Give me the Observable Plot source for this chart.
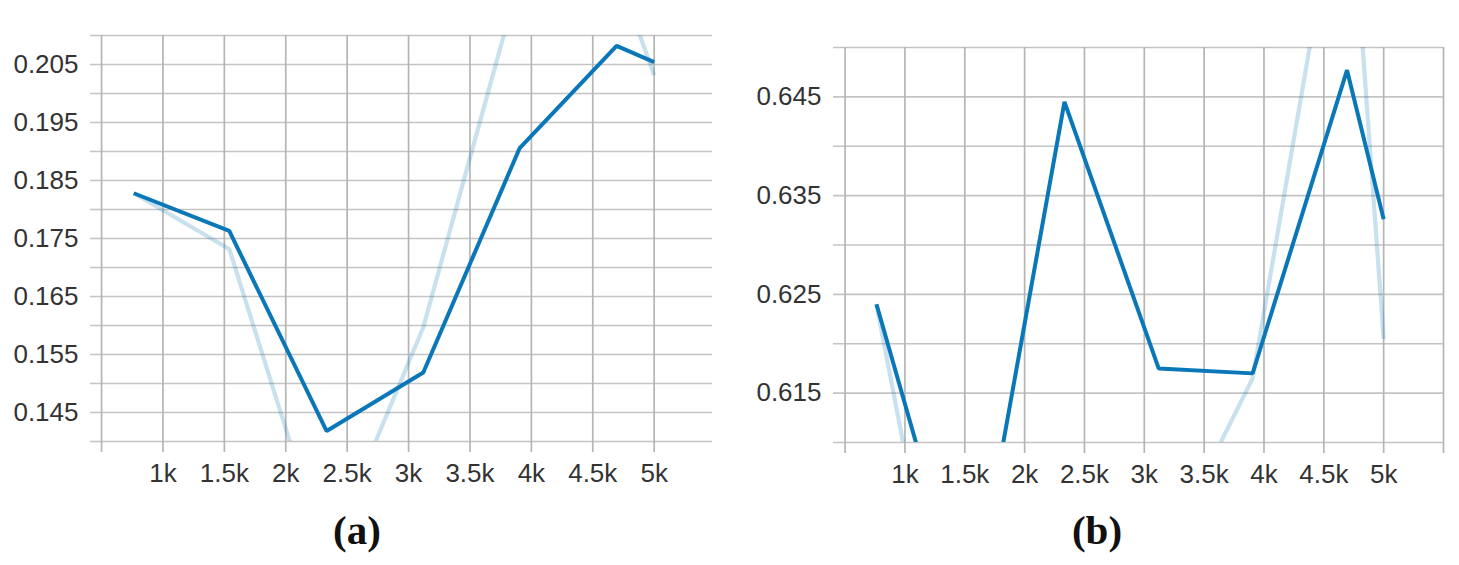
<!DOCTYPE html>
<html>
<head>
<meta charset="utf-8">
<script src="https://cdn.jsdelivr.net/npm/d3@7"></script>
<script src="https://cdn.jsdelivr.net/npm/@observablehq/plot@0.6"></script>
<style>
  html, body { margin: 0; padding: 0; background: #ffffff; }
  #wrap { position: relative; width: 1459px; height: 565px; overflow: hidden; background: #fff; }
  .panel { position: absolute; top: 0; }
  .cap { position: absolute; width: 200px; text-align: center; font-family: "Liberation Serif", "Times New Roman", serif; font-weight: bold; font-size: 41px; line-height: 41px; color: #111; }
</style>
</head>
<body>
<div id="wrap">
  <div class="panel" id="pa" style="left:0px"></div>
  <div class="panel" id="pb" style="left:730px"></div>
  <div class="cap" style="left:257px; top:510px">(a)</div>
  <div class="cap" style="left:997px; top:510px">(b)</div>
</div>
<script>
// ---- data ----
const steps = [762, 1540, 2333, 3120, 3905, 4694, 5000];

// panel (a)
const aSmoothed = [0.1828, 0.1763, 0.1418, 0.1519, 0.1906, 0.2082, 0.2054];
const aRaw      = [0.1828, 0.1732, 0.1198, 0.1597, 0.2200, 0.2211, 0.2032];

// panel (b)
const bSmoothed = [0.6240, 0.5910, 0.6445, 0.6175, 0.6170, 0.6477, 0.6326];
const bRaw      = [0.6240, 0.5750, 0.5880, 0.5974, 0.6165, 0.6720, 0.6205];

// ticks / grid
const xTicksA = [500, 1000, 1500, 2000, 2500, 3000, 3500, 4000, 4500, 5000];
const xTicksB = [500, 1000, 1500, 2000, 2500, 3000, 3500, 4000, 4500, 5000, 5500];
const yLabelsA = [0.145, 0.155, 0.165, 0.175, 0.185, 0.195, 0.205];
const yGridA = [0.14, 0.145, 0.15, 0.155, 0.16, 0.165, 0.17, 0.175, 0.18, 0.185, 0.19, 0.195, 0.2, 0.205, 0.21];
const yLabelsB = [0.615, 0.625, 0.635, 0.645];
const yGridB = [0.61, 0.615, 0.62, 0.625, 0.63, 0.635, 0.64, 0.645, 0.65];

const fmtK = v => (v === 500 || v === 5500) ? "" : (v / 1000) + "k";
const fmtY = d3.format(".3f");

const DARK = "#0a77b8";
const GRID_H = "#c4c4c4";
const GRID_V = "#b5b5b5";

function panel({smoothed, raw, xDomain, yDomain, xTicks, yLabels, yGrid, width, marginLeft, marginRight, marginTop, marginBottom}) {
  const rows = steps.map((s, i) => ({step: s, smoothed: smoothed[i], raw: raw[i]}));
  return Plot.plot({
    width, height: 500,
    marginLeft, marginRight, marginTop, marginBottom,
    x: {domain: xDomain},
    y: {domain: yDomain},
    style: {fontFamily: "'Liberation Sans', Arial, sans-serif", fontSize: "26px", color: "#333", background: "white", overflow: "visible"},
    marks: [
      Plot.ruleY(yGrid, {stroke: GRID_H, strokeWidth: 1.7}),
      Plot.ruleX(xTicks, {stroke: GRID_V, strokeWidth: 1.7}),
      Plot.axisX({ticks: xTicks, tickSize: 11, tickPadding: 11, tickFormat: fmtK, stroke: GRID_V, strokeWidth: 1.7, label: null, fill: "#333"}),
      Plot.axisY({ticks: yLabels, tickSize: 0, tickPadding: 12, tickFormat: fmtY, label: null, fill: "#333"}),
      Plot.line(rows, {x: "step", y: "raw", stroke: DARK, strokeOpacity: 0.22, strokeWidth: 4.2, strokeLinejoin: "miter", strokeLinecap: "butt", clip: true}),
      Plot.line(rows, {x: "step", y: "smoothed", stroke: DARK, strokeWidth: 4, strokeLinejoin: "miter", strokeLinecap: "butt", clip: true})
    ]
  });
}

document.getElementById("pa").append(panel({
  smoothed: aSmoothed, raw: aRaw,
  xDomain: [410, 5475], yDomain: [0.14, 0.21],
  xTicks: xTicksA, yLabels: yLabelsA, yGrid: yGridA,
  width: 730, marginLeft: 90, marginRight: 18, marginTop: 35, marginBottom: 59
}));

document.getElementById("pb").append(panel({
  smoothed: bSmoothed, raw: bRaw,
  xDomain: [403, 5500], yDomain: [0.61, 0.65],
  xTicks: xTicksB, yLabels: yLabelsB, yGrid: yGridB,
  width: 729, marginLeft: 103, marginRight: 16, marginTop: 47, marginBottom: 58
}));
</script>
</body>
</html>
